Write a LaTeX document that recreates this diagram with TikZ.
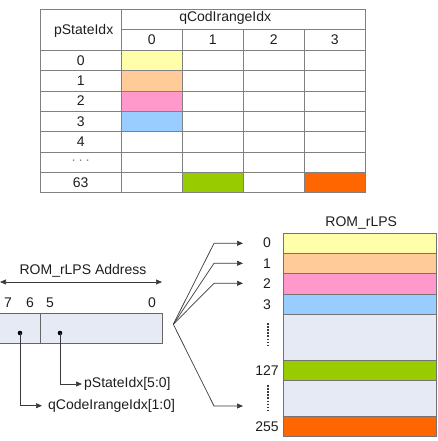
\documentclass[tikz,border=0pt]{standalone}
\usepackage{fontspec}
\setmainfont{Liberation Sans}
\usetikzlibrary{calc,positioning,arrows.meta}

\definecolor{romyellow}{HTML}{FFFFAA}
\definecolor{rompeach}{HTML}{FFCC99}
\definecolor{rompink}{HTML}{FF99CC}
\definecolor{romblue}{HTML}{99CCFF}
\definecolor{romgreen}{HTML}{99CC00}
\definecolor{romorange}{HTML}{FF6600}
\definecolor{romgap}{HTML}{E6EAF5}
\definecolor{tablegrey}{HTML}{808080}
\definecolor{linegrey}{HTML}{3A3A3A}
\definecolor{textgrey}{HTML}{1E1E1E}

\begin{document}
\begin{tikzpicture}[x=1pt,y=-1pt,font=\fontsize{14}{16}\selectfont,text=textgrey,
    >={Triangle[length=6pt,width=5pt]},
    cell/.style={draw=tablegrey,rectangle,anchor=north west,inner sep=0pt},
    conn/.style={draw=linegrey,line width=.7pt}]

  \useasboundingbox (0,0) rectangle (438,441);

  % table pStateIdx x qCodIrangeIdx
  \node [cell, minimum width=81, minimum height=41] at (40,9) (head_p) {};
  \node at ($(head_p.center)+(3,1)$) (head_p_label) {pStateIdx};
  \node [cell, minimum width=244, minimum height=20.5] at (121,9) (head_q) {};
  \node at ($(head_q.center)+(-18,-1.5)$) (head_q_label) {qCodIrangeIdx};

  \foreach \c in {0,...,3}
  {
    \node [cell, minimum width=61, minimum height=20.5] at ($(121,29.5)+(61*\c,0)$) (head_q_\c) {\c};
  }

  \foreach \lab [count=\r from 0] in {0,1,2,3,4,{\textcolor{tablegrey}{·\,·\,·}},63}
  {
    \pgfmathsetmacro\rowtop{50+20.33*\r}
    \node [cell, minimum width=81, minimum height=20.33] at (40,\rowtop) (row_\r) {\lab};

    \foreach \c in {0,...,3}{
      \node [cell, minimum width=61, minimum height=20.33] at ($(121,\rowtop)+(61*\c,0)$) (cell_\r_\c) {};
    }
  }

  \foreach \r/\c/\col in {0/0/romyellow,1/0/rompeach,2/0/rompink,3/0/romblue,6/1/romgreen,6/3/romorange}
  {
    \node [cell, fill=\col, minimum width=61, minimum height=20.33] at (cell_\r_\c.north west) (fill_\r_\c) {};
  }

  % ROM_rLPS
  \foreach \name/\top/\h/\col in {0/232.7/20/romyellow,1/252.7/20.6/rompeach,2/273.3/20.7/rompink,3/294/20/romblue,
      gap_a/314/46/romgap,127/360/20/romgreen,gap_b/380/36/romgap,255/416/20/romorange}
  {
    \node [cell, draw=tablegrey!90!black, fill=\col, minimum width=153, minimum height=\h] at (283,\top) (rom_\name) {};
  }
  \node at ($(rom_0.north)+(1.5,-10)$) (rom_title) {ROM\_rLPS};

  \foreach \name in {0,1,2,3,127,255}
  {
    \node at ($(rom_\name.west)+(-16,0)$) (rom_label_\name) {\name};
  }
  \draw [linegrey, line width=1.7pt, dash pattern=on 1.5pt off 1.6pt]
    ($(rom_gap_a.north west)+(-15,9)$) -- ($(rom_gap_a.north west)+(-15,33)$)
    ($(rom_gap_b.north west)+(-15,5)$) -- ($(rom_gap_b.north west)+(-15,30)$);

  % address register
  \node [cell, draw=tablegrey!80!black, fill=romgap, anchor=north east, minimum width=50, minimum height=30] at (40,313) (addr_hi) {};
  \node [cell, draw=tablegrey!80!black, fill=romgap, minimum width=122, minimum height=30] at (40,313) (addr_lo) {};

  \foreach \b/\x in {7/8,6/30,5/50,0/152}
  {
    \node at (\x,303) (bit_\b) {\b};
  }

  \coordinate (addr_arrow_l) at (0,282);
  \coordinate (addr_arrow_r) at (162,282);
  \draw [conn,<->] (addr_arrow_l) -- (addr_arrow_r);
  \node at (83,270.7) (addr_label) {ROM\_rLPS Address};

  \node [circle, fill=black, inner sep=0pt, minimum size=4.6] at (20,333) (dot_q) {};
  \node [circle, fill=black, inner sep=0pt, minimum size=4.6] at (60,333) (dot_p) {};

  \node [anchor=west, inner sep=2pt] at (82,384) (lab_pstate) {pStateIdx[5:0]};
  \node [anchor=west, inner sep=2pt] at (46,405.7) (lab_qcode) {qCodeIrangeIdx[1:0]};
  \draw [conn,->] (dot_p.center) |- (lab_pstate.west);
  \draw [conn,->,shorten >=4pt] (dot_q.center) |- (lab_qcode.west);

  % fan out to ROM entries
  \coordinate (fan_apex) at (173.3,324.3);
  \foreach \i/\y in {0/243.3,1/263.3,2/283.3,255/406}
  {
    \coordinate (fan_end_\i) at (243,\y);
    \draw [conn,->] (fan_apex) -- ($(fan_end_\i)+(-29,0)$) -- (fan_end_\i);
  }

\end{tikzpicture}
\end{document}
